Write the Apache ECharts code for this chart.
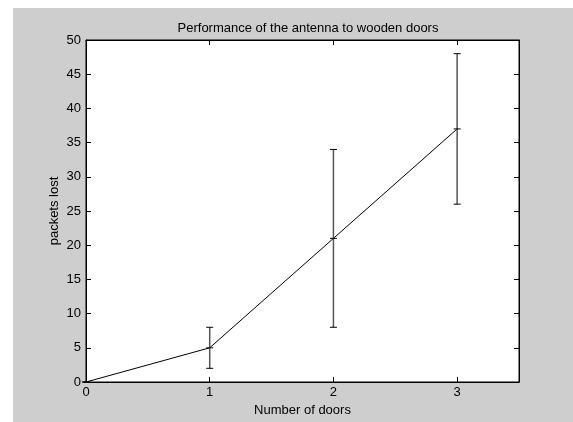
<!DOCTYPE html>
<html>
<head>
<meta charset="utf-8">
<script src="https://cdn.jsdelivr.net/npm/echarts@6/dist/echarts.min.js"></script>
<style>
html,body{margin:0;padding:0;background:#ffffff;width:573px;height:422px;overflow:hidden;}
#c{position:absolute;left:13px;top:8px;width:560px;height:414px;background:#cecece;}
</style>
</head>
<body>
<div id="c"></div>
<script>
const doors = [0, 1, 2, 3];
const packetsLost = [0, 5, 21, 37];
const errLow = [0, 2, 8, 26];
const errHigh = [0, 8, 34, 48];
const xTicks = [0, 1, 2, 3];

const FONT = "'Liberation Sans', Arial, sans-serif";
const chart = echarts.init(document.getElementById('c'), null, {renderer: 'canvas'});

const lineData = doors.map((d, i) => [d, packetsLost[i]]);
const errData = doors.map((d, i) => [d, errLow[i], errHigh[i], packetsLost[i]]);

const tickStyle = {show: true, inside: true, length: 5, lineStyle: {color: '#000', width: 1}};

chart.setOption({
  animation: false,
  backgroundColor: '#cecece',
  title: {
    text: 'Performance of the antenna to wooden doors',
    left: 290, top: 9, textAlign: 'center',
    textStyle: {fontFamily: FONT, fontSize: 13, fontWeight: 'normal', color: '#000'}
  },
  grid: {
    left: 73, top: 32, right: 54, bottom: 40,
    show: true, backgroundColor: '#ffffff', borderColor: '#000', borderWidth: 1
  },
  xAxis: [{
    type: 'value', min: 0, max: 3.5, interval: 1,
    name: 'Number of doors', nameLocation: 'middle', nameGap: 22,
    nameTextStyle: {fontFamily: FONT, fontSize: 13, color: '#000'},
    axisLine: {show: true, onZero: false, lineStyle: {color: '#000', width: 1}},
    axisTick: tickStyle,
    axisLabel: {
      fontFamily: FONT, fontSize: 13, color: '#000', margin: 4,
      formatter: v => xTicks.indexOf(v) >= 0 ? String(v) : ''
    },
    splitLine: {show: false}
  }, {
    type: 'value', min: 0, max: 3.5, interval: 1, position: 'top',
    axisLine: {show: true, onZero: false, lineStyle: {color: '#000', width: 1}},
    axisTick: tickStyle,
    axisLabel: {show: false},
    splitLine: {show: false}
  }],
  yAxis: [{
    type: 'value', min: 0, max: 50, interval: 5,
    name: 'packets lost', nameLocation: 'middle', nameGap: 25, nameMoveOverlap: false,
    nameTextStyle: {fontFamily: FONT, fontSize: 13, color: '#000'},
    axisLine: {show: true, onZero: false, lineStyle: {color: '#000', width: 1}},
    axisTick: tickStyle,
    axisLabel: {fontFamily: FONT, fontSize: 13, color: '#000', margin: 5},
    splitLine: {show: false}
  }, {
    type: 'value', min: 0, max: 50, interval: 5, position: 'right',
    axisLine: {show: true, onZero: false, lineStyle: {color: '#000', width: 1}},
    axisTick: tickStyle,
    axisLabel: {show: false},
    splitLine: {show: false}
  }],
  series: [{
    type: 'line',
    data: lineData,
    showSymbol: false,
    symbol: 'none',
    lineStyle: {color: '#000', width: 1},
    z: 3
  }, {
    type: 'custom',
    data: errData,
    z: 4,
    renderItem: function (params, api) {
      const x = api.value(0);
      const lo = api.coord([x, api.value(1)]);
      const hi = api.coord([x, api.value(2)]);
      const mid = api.coord([x, api.value(3)]);
      const hw = 3.5;
      const black = {stroke: '#000', lineWidth: 1};
      return {
        type: 'group',
        children: [
          {type: 'line', shape: {x1: lo[0], y1: lo[1], x2: hi[0], y2: hi[1]}, style: {stroke: '#555', lineWidth: 1.5}},
          {type: 'line', shape: {x1: lo[0] - hw, y1: lo[1], x2: lo[0] + hw, y2: lo[1]}, style: black},
          {type: 'line', shape: {x1: hi[0] - hw, y1: hi[1], x2: hi[0] + hw, y2: hi[1]}, style: black},
          {type: 'line', shape: {x1: mid[0] - hw, y1: mid[1], x2: mid[0] + hw, y2: mid[1]}, style: black}
        ]
      };
    }
  }]
});
</script>
</body>
</html>
